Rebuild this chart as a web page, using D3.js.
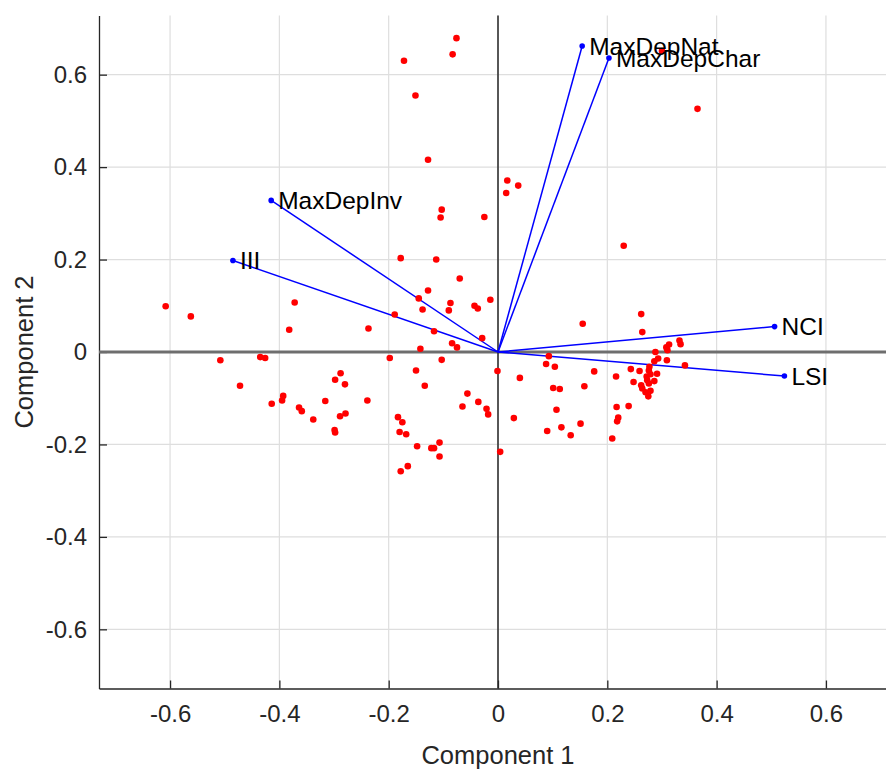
<!DOCTYPE html>
<html>
<head>
<meta charset="utf-8">
<script src="https://cdn.jsdelivr.net/npm/d3@7"></script>
<style>
  body { margin: 0; background: #fff; }
  #myPlot { width: 886px; height: 771px; }
  text { font-family: "Liberation Sans", Arial, Helvetica, sans-serif; }
</style>
</head>
<body>
<div id="myPlot"></div>
<script>
// Loading vectors (Component 1, Component 2)
const varNames = ["MaxDepNat", "MaxDepChar", "MaxDepInv", "III", "NCI", "LSI"];
const varX = [0.154, 0.203, -0.415, -0.485, 0.506, 0.524];
const varY = [0.662, 0.636, 0.328, 0.198, 0.055, -0.052];

// Scores (Component 1)
const scoreX = [
  -0.076, -0.083, -0.172, -0.151, -0.128, 0.017, 0.015, 0.037, -0.103, -0.105,
  -0.025, -0.178, -0.113, -0.070, -0.128, -0.145, -0.087, -0.014, -0.138, -0.090,
  -0.043, -0.037, -0.608, -0.562, -0.372, -0.189, -0.382, -0.237, -0.117, -0.029,
  -0.084, -0.075, -0.142, -0.508, -0.435, -0.426, -0.198, -0.103, -0.150, -0.001,
  -0.472, -0.288, -0.298, -0.280, -0.134, -0.056, -0.036, -0.065, -0.021, -0.018,
  -0.414, -0.393, -0.395, -0.364, -0.359, -0.316, -0.239, -0.338, -0.289, -0.279,
  -0.299, -0.298, -0.183, -0.175, -0.180, -0.168, -0.148, -0.122, -0.117, -0.107,
  -0.107, -0.165, -0.178, 0.004, 0.300, 0.365, 0.230, 0.155, 0.262, 0.264,
  0.332, 0.334, 0.313, 0.308, 0.310, 0.288, 0.293, 0.286, 0.309, 0.342,
  0.176, 0.158, 0.243, 0.259, 0.277, 0.276, 0.279, 0.291, 0.216, 0.272,
  0.273, 0.286, 0.248, 0.262, 0.276, 0.264, 0.270, 0.279, 0.275, 0.217,
  0.239, 0.220, 0.093, 0.088, 0.104, 0.040, 0.101, 0.113, 0.107, 0.029,
  0.090, 0.116, 0.133, 0.151, 0.218, 0.209
];
// Scores (Component 2)
const scoreY = [
  0.679, 0.644, 0.630, 0.555, 0.416, 0.371, 0.344, 0.360, 0.308, 0.291,
  0.292, 0.203, 0.200, 0.159, 0.133, 0.116, 0.106, 0.113, 0.092, 0.090,
  0.100, 0.094, 0.099, 0.077, 0.107, 0.081, 0.048, 0.051, 0.045, 0.030,
  0.019, 0.010, 0.007, -0.018, -0.011, -0.013, -0.013, -0.017, -0.040, -0.041,
  -0.073, -0.046, -0.060, -0.070, -0.073, -0.090, -0.108, -0.118, -0.123, -0.135,
  -0.112, -0.095, -0.105, -0.120, -0.128, -0.106, -0.105, -0.146, -0.139, -0.133,
  -0.169, -0.174, -0.141, -0.152, -0.173, -0.178, -0.204, -0.208, -0.208, -0.196,
  -0.226, -0.247, -0.258, -0.216, 0.651, 0.526, 0.230, 0.061, 0.082, 0.043,
  0.025, 0.017, 0.016, 0.010, 0.004, 0.000, -0.014, -0.020, -0.018, -0.029,
  -0.042, -0.074, -0.037, -0.041, -0.032, -0.040, -0.048, -0.047, -0.053, -0.053,
  -0.061, -0.063, -0.065, -0.072, -0.068, -0.079, -0.087, -0.084, -0.096, -0.119,
  -0.117, -0.142, -0.009, -0.026, -0.032, -0.056, -0.078, -0.080, -0.125, -0.143,
  -0.171, -0.163, -0.180, -0.155, -0.150, -0.187
];

const ticks = [-0.6, -0.4, -0.2, 0, 0.2, 0.4, 0.6];

const width = 886;
const height = 771;

const svg = d3.select("#myPlot")
  .append("svg")
  .attr("width", width)
  .attr("height", height);

const x = d3.scaleLinear()
  .domain([-0.73, 0.73])
  .range([99, 897]);

const y = d3.scaleLinear()
  .domain([-0.728, 0.728])
  .range([688.5, 15.5]);

const fmt = d => d === 0 ? "0" : d.toFixed(1);

// Grid
svg.append("g")
  .selectAll("line")
  .data(ticks).enter()
  .append("line")
  .attr("x1", d => x(d)).attr("x2", d => x(d))
  .attr("y1", y.range()[1]).attr("y2", y.range()[0])
  .style("stroke", "#dedede")
  .style("stroke-width", 1.2);

svg.append("g")
  .selectAll("line")
  .data(ticks).enter()
  .append("line")
  .attr("x1", x.range()[0]).attr("x2", x.range()[1])
  .attr("y1", d => y(d)).attr("y2", d => y(d))
  .style("stroke", "#dedede")
  .style("stroke-width", 1.2);

// Axes (ticks point inward)
const xAxis = svg.append("g")
  .attr("transform", "translate(0," + y.range()[0] + ")")
  .call(d3.axisBottom(x).tickValues(ticks).tickSize(-8).tickSizeOuter(0).tickPadding(16).tickFormat(fmt));

const yAxis = svg.append("g")
  .attr("transform", "translate(" + x.range()[0] + ",0)")
  .call(d3.axisLeft(y).tickValues(ticks).tickSize(-8).tickSizeOuter(0).tickPadding(12).tickFormat(fmt));

[xAxis, yAxis].forEach(function (a) {
  a.select(".domain").style("stroke", "#262626").style("stroke-width", 1.3);
  a.selectAll(".tick line").style("stroke", "#262626").style("stroke-width", 1.3);
  a.selectAll(".tick text")
    .style("font-size", "24px")
    .style("fill", "#262626");
});

// Zero lines
svg.append("line")
  .attr("x1", x.range()[0]).attr("x2", x.range()[1])
  .attr("y1", y(0)).attr("y2", y(0))
  .style("stroke", "#6e6e6e")
  .style("stroke-width", 3);

svg.append("line")
  .attr("x1", x(0)).attr("x2", x(0))
  .attr("y1", y.range()[1]).attr("y2", y.range()[0])
  .style("stroke", "#262626")
  .style("stroke-width", 1.5);

// Axis labels
svg.append("text")
  .attr("x", x(0))
  .attr("y", 764)
  .attr("text-anchor", "middle")
  .style("font-size", "25.5px")
  .style("fill", "#262626")
  .text("Component 1");

svg.append("text")
  .attr("transform", "translate(33," + y(0) + ") rotate(-90)")
  .attr("text-anchor", "middle")
  .style("font-size", "25.5px")
  .style("fill", "#262626")
  .text("Component 2");

// Loading vectors
const vars = varNames.map((n, i) => ({ name: n, x: varX[i], y: varY[i] }));

svg.append("g")
  .selectAll("line")
  .data(vars).enter()
  .append("line")
  .attr("x1", x(0)).attr("y1", y(0))
  .attr("x2", d => x(d.x)).attr("y2", d => y(d.y))
  .style("stroke", "#0000ff")
  .style("stroke-width", 1.5);

svg.append("g")
  .selectAll("circle")
  .data(vars).enter()
  .append("circle")
  .attr("cx", d => x(d.x))
  .attr("cy", d => y(d.y))
  .attr("r", 2.8)
  .style("fill", "#0000ff");

// Scores
const scores = scoreX.map((v, i) => ({ x: v, y: scoreY[i] }));

svg.append("g")
  .selectAll("circle")
  .data(scores).enter()
  .append("circle")
  .attr("cx", d => x(d.x))
  .attr("cy", d => y(d.y))
  .attr("r", 3.3)
  .style("fill", "#ff0000");

// Vector labels
svg.append("g")
  .selectAll("text")
  .data(vars).enter()
  .append("text")
  .attr("x", d => x(d.x) + 7)
  .attr("y", d => y(d.y))
  .attr("dy", "0.35em")
  .style("font-size", "24.5px")
  .style("fill", "#000")
  .text(d => d.name);
</script>
</body>
</html>
